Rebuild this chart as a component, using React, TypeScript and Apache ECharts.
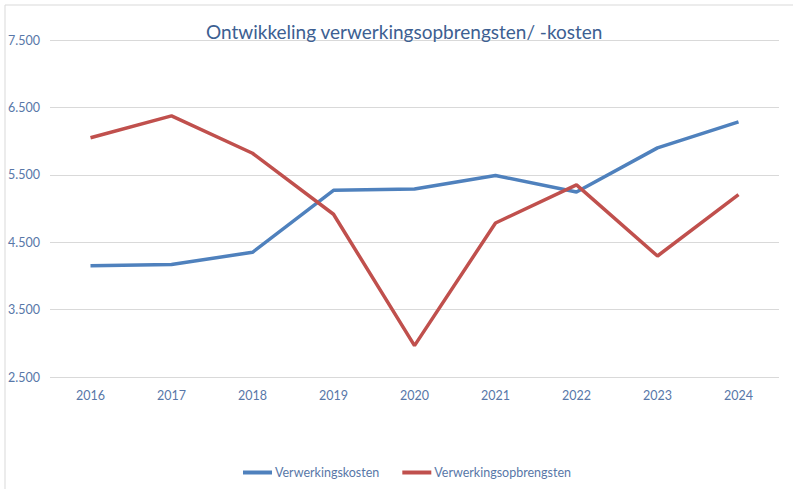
import React, { useEffect, useRef } from "react";
import * as echarts from "echarts";

const categories = ["2016", "2017", "2018", "2019", "2020", "2021", "2022", "2023", "2024"];
const kosten = [4150, 4170, 4350, 5270, 5290, 5490, 5245, 5900, 6285];
const opbrengsten = [6050, 6375, 5820, 4915, 2965, 4785, 5350, 4295, 5205];
const seriesNames = ["Verwerkingskosten", "Verwerkingsopbrengsten"];
const titleText = "Ontwikkeling verwerkingsopbrengsten/ -kosten";

const FONT = "Lato, 'Open Sans', sans-serif";
const LABEL = "#5877A8";

export default function App() {
  const ref = useRef<HTMLDivElement>(null);
  useEffect(() => {
    if (!ref.current) return;
    const chart = echarts.init(ref.current, undefined, { renderer: "svg" });
    chart.setOption({
      animation: false,
      backgroundColor: "#ffffff",
      title: {
        text: titleText,
        left: 201,
        top: 17,
        textStyle: { color: "#3D5F92", fontSize: 19, fontWeight: "normal", fontFamily: FONT },
      },
      graphic: [
        {
          type: "rect",
          shape: { x: 5, y: 5, width: 820, height: 520 },
          style: { fill: "none", stroke: "#D9D9D9", lineWidth: 1 },
          silent: true,
        },
      ],
      legend: {
        bottom: 5,
        left: 238,
        icon: "rect",
        itemWidth: 29,
        itemHeight: 4,
        itemGap: 23,
        textStyle: { color: LABEL, fontSize: 12.5, fontFamily: FONT, padding: [0, 0, 0, -2] },
        data: seriesNames,
      },
      grid: { left: 50, right: 14, top: 40, bottom: 112, containLabel: false },
      xAxis: {
        type: "category",
        data: categories,
        boundaryGap: true,
        axisLine: { show: false },
        axisTick: { show: false },
        axisLabel: { color: LABEL, fontSize: 12.5, fontFamily: FONT, margin: 12 },
      },
      yAxis: {
        type: "value",
        min: 2500,
        max: 7500,
        interval: 1000,
        axisLine: { show: false },
        axisTick: { show: false },
        splitLine: { lineStyle: { color: "#D9D9D9", width: 1 } },
        axisLabel: {
          color: LABEL,
          fontSize: 12.5,
          fontFamily: FONT,
          align: "left",
          margin: 42,
          formatter: (v: number) => v.toLocaleString("nl-NL"),
        },
      },
      series: [
        {
          name: seriesNames[0],
          type: "line",
          data: kosten,
          symbol: "none",
          lineStyle: { color: "#4F81BD", width: 3.5 },
          itemStyle: { color: "#4F81BD" },
        },
        {
          name: seriesNames[1],
          type: "line",
          data: opbrengsten,
          symbol: "none",
          lineStyle: { color: "#C0504D", width: 3.5 },
          itemStyle: { color: "#C0504D" },
        },
      ],
    });
    return () => chart.dispose();
  }, []);
  return (
    <div
      ref={ref}
      style={{ position: "fixed", left: 0, top: 0, width: 793, height: 489 }}
    />
  );
}
